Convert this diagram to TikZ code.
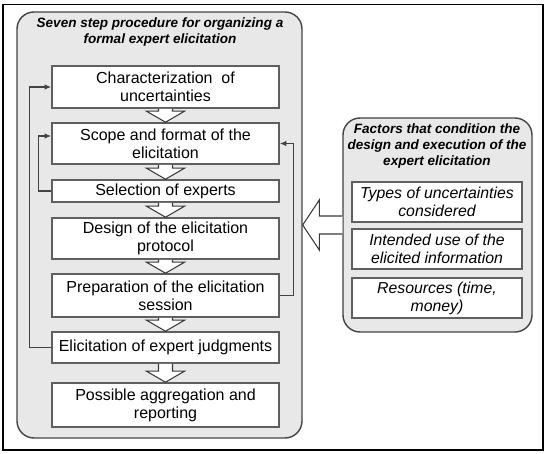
\documentclass[tikz,border=0pt]{standalone}
\usepackage{fontspec}
\setmainfont{Liberation Sans}
\usetikzlibrary{arrows.meta,positioning,calc}
\definecolor{panelgray}{RGB}{232,232,232}
\definecolor{edge}{RGB}{95,95,95}
\tikzset{
  >={Latex[length=1.3mm,width=1.1mm]},
  panel/.style={draw=edge!70!black,fill=panelgray,rounded corners=3.4mm,line width=0.8pt},
  stepbox/.style={draw=edge,fill=white,line width=0.9pt,minimum width=45.4mm,
    minimum height=#1,inner sep=0pt,align=center,font=\fontsize{9.1}{10.3}\selectfont},
  stepbox/.default=8.2mm,
  factor/.style={stepbox=8mm,minimum width=34mm,font=\fontsize{9}{10.3}\selectfont\itshape},
  heading/.style={font=\fontsize{7.7}{9}\selectfont\bfseries\itshape,align=center},
  hollow/.style={draw=edge!60!black,fill=white,line width=0.6pt,line join=miter},
  loop/.style={->,draw=edge!70!black,line width=0.7pt},
}
% hollow block arrow between two stacked steps
\newcommand{\flowdown}[2]{%
  \draw[hollow] ($(#1.south)+(-7,0)$) -- ($(#2.north)+(-7,-11)$) -- ++(-12,0)
    -- (#2.north) -- ($(#2.north)+(19,-11)$) -- ++(-12,0) -- ($(#1.south)+(7,0)$);}

\begin{document}
\begin{tikzpicture}[x=0.2mm,y=-0.2mm]
  \useasboundingbox (0,0) rectangle (547,454);
  \draw[line width=0.6pt] (3,4.5) rectangle (543,450);

  % left panel: the seven steps
  \node[panel,minimum width=57mm,minimum height=85.2mm] (proc) at (159.5,225) {};
  \node[heading] (proctitle) at (160,32) {Seven step procedure for organizing a\\formal expert elicitation};

  \node[stepbox=8.4mm] (s1) at (165.5,87) {Characterization\ \ of\\uncertainties};
  \node[stepbox=8.2mm] (s2) at (165.5,143.5) {Scope and format of the\\elicitation};
  \node[stepbox=4.4mm] (s3) at (165.5,191) {Selection of experts};
  \node[stepbox=8.2mm] (s4) at (165.5,238.5) {Design of the elicitation\\protocol};
  \node[stepbox=8.6mm] (s5) at (165.5,295.5) {Preparation of the elicitation\\session};
  \node[stepbox=6.2mm] (s6) at (165.5,347.5) {Elicitation of expert judgments};
  \node[stepbox=8.8mm] (s7) at (165.5,405) {Possible aggregation and\\reporting};

  \flowdown{s1}{s2}
  \flowdown{s2}{s3}
  \flowdown{s3}{s4}
  \flowdown{s4}{s5}
  \flowdown{s5}{s6}
  \flowdown{s6}{s7}

  % feedback loops
  \draw[loop] (s6.west) -- ++(-22,0) |- (s1.west);
  \draw[loop] (s3.west) -- ++(-13,0) |- ($(s2.west)+(0,-7.5)$);
  \draw[loop] (s5.east) -- ++(14,0) |- (s2.east);

  % right panel: conditioning factors
  \node[panel,minimum width=37.8mm,minimum height=42.8mm] (cond) at (437.5,225) {};
  \node[heading] (condtitle) at (437,146) {Factors that condition the\\design and execution of the\\expert elicitation};
  \node[factor] (f1) at (437,202) {Types of uncertainties\\considered};
  \node[factor] (f2) at (437,249) {Intended use of the\\elicited information};
  \node[factor] (f3) at (437,298) {Resources (time,\\money)};

  \draw[hollow] ($(cond.west)+(0,-9)$) -- ++(-23,0) -- ++(0,-16) -- (proc.east |- cond.west)
    -- ($(cond.west)+(-23,25)$) -- ++(0,-16) -- ($(cond.west)+(0,9)$);
\end{tikzpicture}
\end{document}
